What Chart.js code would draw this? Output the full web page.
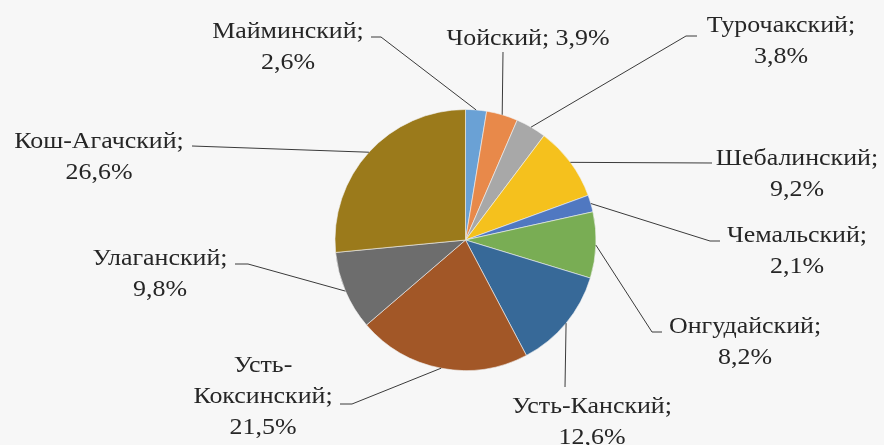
<!DOCTYPE html>
<html>
<head>
<meta charset="utf-8">
<script src="https://cdn.jsdelivr.net/npm/chart.js@4/dist/chart.umd.min.js"></script>
<style>
html,body{margin:0;padding:0;background:#f7f7f7;}
#wrap{width:884px;height:445px;position:relative;}
#probe{position:absolute;left:-1000px;top:0;font-family:"Liberation Serif";font-size:24px;}
</style>
</head>
<body>
<div id="probe">Майминский; 2,6%</div>
<div id="wrap"><canvas id="c" width="884" height="445"></canvas></div>
<script>
// ---- data ----
const categories = ["Майминский","Чойский","Турочакский","Шебалинский","Чемальский","Онгудайский","Усть-Канский","Усть-Коксинский","Улаганский","Кош-Агачский"];
const shares = [2.6, 3.9, 3.8, 9.2, 2.1, 8.2, 12.6, 21.5, 9.8, 26.6];
const valueLabels = ["2,6%","3,9%","3,8%","9,2%","2,1%","8,2%","12,6%","21,5%","9,8%","26,6%"];
const colors = ["#6aa1d5","#e8894a","#a8a8a8","#f5c11d","#5078c1","#79ad54","#376998","#a25727","#6d6d6d","#9b7a1b"];

// ---- label layout (pixel positions relative to a pie centred at CX,CY) ----
const CX = 465.5, CY = 240;
const labelLayout = [
  {lines:["Майминский;","2,6%"],          tx:288, ty:38,  ex:381, ey:37,  ax:371, ay:37},
  {lines:["Чойский; 3,9%"],               tx:528, ty:45,  ex:503, ey:52,  ax:503, ay:52},
  {lines:["Турочакский;","3,8%"],         tx:781, ty:32,  ex:686, ey:36,  ax:697, ay:36},
  {lines:["Шебалинский;","9,2%"],         tx:797, ty:165, ex:712, ey:163, ax:712, ay:163},
  {lines:["Чемальский;","2,1%"],          tx:797, ty:242, ex:710, ey:241, ax:720, ay:241},
  {lines:["Онгудайский;","8,2%"],         tx:745, ty:333, ex:652, ey:332, ax:662, ay:332},
  {lines:["Усть-Канский;","12,6%"],       tx:592, ty:413, ex:565, ey:387, ax:565, ay:387},
  {lines:["Усть-","Коксинский;","21,5%"], tx:263, ty:372, ex:352, ey:404, ax:340, ay:404},
  {lines:["Улаганский;","9,8%"],          tx:160, ty:265, ex:248, ey:264, ax:235, ay:264},
  {lines:["Кош-Агачский;","26,6%"],       tx:99,  ty:148, ex:192, ey:146, ax:192, ay:146}
];
const FONT = '24px "Liberation Serif"';
const STRETCH = 1.08, LINE_H = 31;

const labelPlugin = {
  id: 'pieLabels',
  afterDatasetsDraw(chart) {
    const ctx = chart.ctx;
    const meta = chart.getDatasetMeta(0);
    ctx.save();
    meta.data.forEach((arc, i) => {
      const L = labelLayout[i];
      const dx = arc.x - CX, dy = arc.y - CY;
      const mid = (arc.startAngle + arc.endAngle) / 2;
      const px = arc.x + Math.cos(mid) * arc.outerRadius;
      const py = arc.y + Math.sin(mid) * arc.outerRadius;
      ctx.strokeStyle = '#3a3a3a';
      ctx.lineWidth = 1;
      ctx.beginPath();
      ctx.moveTo(px, py);
      ctx.lineTo(L.ex + dx, L.ey + dy);
      ctx.lineTo(L.ax + dx, L.ay + dy);
      ctx.stroke();
      ctx.fillStyle = '#262626';
      ctx.font = FONT;
      ctx.textAlign = 'center';
      ctx.textBaseline = 'alphabetic';
      L.lines.forEach((t, k) => {
        ctx.save();
        ctx.translate(L.tx + dx, L.ty + dy + k * LINE_H);
        ctx.scale(STRETCH, 1);
        ctx.fillText(t, 0, 0);
        ctx.restore();
      });
    });
    ctx.restore();
  }
};

function build() {
  new Chart(document.getElementById('c'), {
    type: 'pie',
    data: {
      labels: categories,
      datasets: [{
        data: shares,
        backgroundColor: colors,
        borderColor: '#f2f2f2',
        borderWidth: 0.6
      }]
    },
    options: {
      responsive: false,
      animation: false,
      radius: 130.5,
      layout: { padding: { left: 200, right: 153, top: 109.5, bottom: 74.5 } },
      plugins: { legend: { display: false }, tooltip: { enabled: false } }
    },
    plugins: [labelPlugin]
  });
}
if (document.fonts && document.fonts.load) {
  document.fonts.load(FONT, 'Майминский').then(build, build);
} else { build(); }
</script>
</body>
</html>
